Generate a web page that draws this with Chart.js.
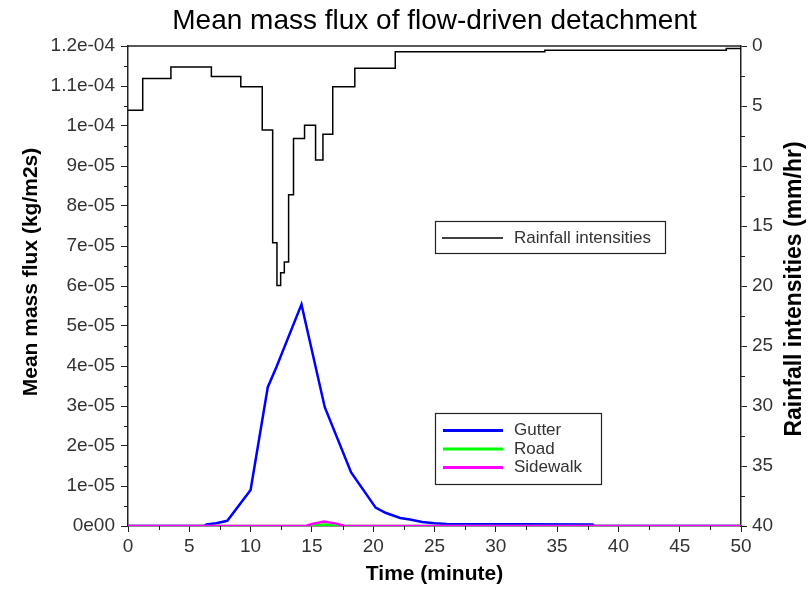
<!DOCTYPE html>
<html>
<head>
<meta charset="utf-8">
<script src="https://cdn.jsdelivr.net/npm/chart.js@4.4.1/dist/chart.umd.min.js"></script>
<style>
  html, body { margin: 0; padding: 0; background: #fff; }
  canvas { display: block; }
</style>
</head>
<body>
<canvas id="chart" width="811" height="589"></canvas>
<script>
// rainfall hyetograph (minute, mm/hr) - each value holds until the next time
const rainTime = [0, 1.2, 3.5, 6.8, 9.2, 10.95, 11.8, 12.15, 12.45, 12.75, 13.1, 13.5, 14.4, 15.3, 15.9, 16.7, 18.5, 21.8, 34, 48.8, 50];
const rainIntensity = [5.35, 2.7, 1.75, 2.55, 3.4, 7.0, 16.4, 19.95, 18.9, 18.0, 12.4, 7.7, 6.6, 9.5, 7.35, 3.4, 1.85, 0.47, 0.36, 0.2, 0.2];

// mean mass flux (kg/m2s)
const gutterTime = [0, 6.2, 6.4, 7.2, 8.1, 10, 11.4, 12.1, 14.15, 16.05, 18.2, 20.2, 21, 22.2, 23, 24, 25, 26, 37.9, 38, 50];
const gutterFlux = [0, 0, 0.04e-5, 0.07e-5, 0.13e-5, 0.9e-5, 3.47e-5, 3.97e-5, 5.54e-5, 2.97e-5, 1.34e-5, 0.46e-5, 0.33e-5, 0.2e-5, 0.16e-5, 0.1e-5, 0.07e-5, 0.05e-5, 0.04e-5, 0, 0];

const roadTime = [0, 15, 15.5, 16, 16.5, 17, 50];
const roadFlux = [0, 0, 0.03e-5, 0.04e-5, 0.03e-5, 0, 0];

const sidewalkTime = [0, 14.5, 15, 16, 17, 17.7, 50];
const sidewalkFlux = [0, 0, 0.05e-5, 0.11e-5, 0.06e-5, 0, 0];

const seriesNames = ['Gutter', 'Road', 'Sidewalk'];
const seriesColors = ['#0000ff', '#00ff00', '#ff00ff'];

function pts(xs, ys) {
  return xs.map((x, i) => ({x: x, y: ys[i]}));
}

function fmtExp(v) {
  if (v === 0) return '0e00';
  const s = Number(v.toPrecision(3)).toExponential();
  const [m, e] = s.split('e');
  const d = e.replace(/[-+]/, '');
  return m + 'e' + (e[0] === '-' ? '-' : '') + (d.length < 2 ? '0' + d : d);
}

const FONT = 'Liberation Sans, Arial, sans-serif';

const decor = {
  id: 'decor',
  afterDraw(chart) {
    const {ctx, chartArea: a, scales} = chart;
    ctx.save();
    ctx.strokeStyle = '#222';
    ctx.lineWidth = 1.5;
    // top frame line
    ctx.beginPath();
    ctx.moveTo(a.left, a.top);
    ctx.lineTo(a.right, a.top);
    ctx.stroke();

    // minor ticks
    ctx.lineWidth = 1;
    ctx.beginPath();
    for (let v = 2.5; v < 50; v += 5) {
      const x = Math.round(scales.x.getPixelForValue(v)) + 0.5;
      ctx.moveTo(x, a.bottom); ctx.lineTo(x, a.bottom + 4);
    }
    for (let v = 0.5e-5; v < 1.2e-4; v += 1e-5) {
      const y = Math.round(scales.y.getPixelForValue(v)) + 0.5;
      ctx.moveTo(a.left - 4, y); ctx.lineTo(a.left, y);
    }
    for (let v = 2.5; v < 40; v += 5) {
      const y = Math.round(scales.y2.getPixelForValue(v)) + 0.5;
      ctx.moveTo(a.right, y); ctx.lineTo(a.right + 4, y);
    }
    ctx.stroke();

    // y axis titles (both read bottom to top)
    ctx.fillStyle = '#000';
    ctx.textAlign = 'center';
    ctx.textBaseline = 'middle';
    ctx.font = 'bold 21px ' + FONT;
    ctx.save();
    ctx.translate(31, 272);
    ctx.rotate(-Math.PI / 2);
    ctx.fillText('Mean mass flux (kg/m2s)', 0, 0);
    ctx.restore();
    ctx.font = 'bold 23px ' + FONT;
    ctx.save();
    ctx.translate(795, 289);
    ctx.rotate(-Math.PI / 2);
    ctx.fillText('Rainfall intensities (mm/hr)', 0, 0);
    ctx.restore();

    // legends
    ctx.font = '17px ' + FONT;
    ctx.textAlign = 'left';
    ctx.lineWidth = 1.2;
    ctx.strokeStyle = '#222';
    ctx.strokeRect(435.5, 221.5, 230, 32);
    ctx.strokeRect(435.5, 413.5, 166, 71);

    ctx.fillStyle = '#333';
    ctx.strokeStyle = '#000';
    ctx.lineWidth = 1.5;
    ctx.beginPath();
    ctx.moveTo(442, 238); ctx.lineTo(503, 238);
    ctx.stroke();
    ctx.fillText('Rainfall intensities', 514, 238);

    seriesNames.forEach((name, i) => {
      const y = 430.5 + i * 18.5;
      ctx.strokeStyle = seriesColors[i];
      ctx.lineWidth = 3;
      ctx.beginPath();
      ctx.moveTo(443, y); ctx.lineTo(503, y);
      ctx.stroke();
      ctx.fillText(name, 514, y);
    });
    ctx.restore();
  }
};

new Chart(document.getElementById('chart'), {
  type: 'line',
  data: {
    datasets: [
      {
        label: 'Rainfall intensities',
        data: pts(rainTime, rainIntensity),
        yAxisID: 'y2',
        stepped: 'before',
        borderColor: '#000',
        borderWidth: 1.5,
        pointRadius: 0,
        order: 3
      },
      {
        label: seriesNames[0],
        data: pts(gutterTime, gutterFlux),
        yAxisID: 'y',
        borderColor: seriesColors[0],
        borderWidth: 2.5,
        pointRadius: 0,
        order: 2
      },
      {
        label: seriesNames[1],
        data: pts(roadTime, roadFlux),
        yAxisID: 'y',
        borderColor: seriesColors[1],
        borderWidth: 2.5,
        pointRadius: 0,
        order: 1
      },
      {
        label: seriesNames[2],
        data: pts(sidewalkTime, sidewalkFlux),
        yAxisID: 'y',
        borderColor: seriesColors[2],
        borderWidth: 2.5,
        pointRadius: 0,
        order: 0
      }
    ]
  },
  options: {
    responsive: false,
    animation: false,
    layout: { padding: 0 },
    plugins: {
      legend: { display: false },
      tooltip: { enabled: false },
      title: {
        display: true,
        text: 'Mean mass flux of flow-driven detachment',
        fullSize: false,
        color: '#000',
        font: { family: FONT, size: 28, weight: 'normal' },
        padding: { top: 4, bottom: 8.4 }
      }
    },
    scales: {
      x: {
        type: 'linear',
        min: 0,
        max: 50,
        afterFit(s) { s.height = 63; },
        ticks: { stepSize: 5, color: '#333', font: { family: FONT, size: 19 }, padding: 3, maxRotation: 0 },
        grid: { drawOnChartArea: false, tickLength: 6, color: '#222', tickWidth: 1 },
        border: { color: '#222', width: 1.5 },
        title: {
          display: true,
          text: 'Time (minute)',
          color: '#000',
          font: { family: FONT, size: 21, weight: 'bold' },
          padding: { top: 0, bottom: 2.5 }
        }
      },
      y: {
        position: 'left',
        min: 0,
        max: 1.2e-4,
        afterFit(s) { s.width = 128; },
        ticks: { stepSize: 1e-5, color: '#333', font: { family: FONT, size: 19 }, padding: 6, callback: fmtExp },
        grid: { drawOnChartArea: false, tickLength: 7, color: '#222', tickWidth: 1 },
        border: { color: '#222', width: 1.5 }
      },
      y2: {
        position: 'right',
        reverse: true,
        min: 0,
        max: 40,
        afterFit(s) { s.width = 70; },
        ticks: { stepSize: 5, color: '#333', font: { family: FONT, size: 19 }, padding: 5 },
        grid: { drawOnChartArea: false, tickLength: 6, color: '#222', tickWidth: 1 },
        border: { color: '#222', width: 1.5 }
      }
    }
  },
  plugins: [decor]
});
</script>
</body>
</html>
